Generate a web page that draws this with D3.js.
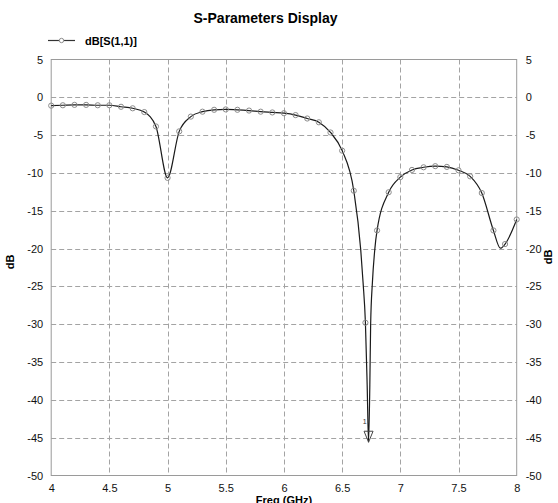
<!DOCTYPE html>
<html>
<head>
<meta charset="utf-8">
<script src="https://cdn.jsdelivr.net/npm/d3@7"></script>
<style>
  html, body { margin: 0; padding: 0; background: #fff; }
  svg { display: block; font-family: "Liberation Sans", Arial, sans-serif; }
</style>
</head>
<body>
<svg id="chart" width="558" height="503"></svg>
<script>
// Sampled S11 response: markers every 0.1 GHz
const markerFreq = [4.0, 4.1, 4.2, 4.3, 4.4, 4.5, 4.6, 4.7, 4.8, 4.9,
                    5.0, 5.1, 5.2, 5.3, 5.4, 5.5, 5.6, 5.7, 5.8, 5.9,
                    6.0, 6.1, 6.2, 6.3, 6.4, 6.5, 6.6, 6.7, 6.8, 6.9,
                    7.0, 7.1, 7.2, 7.3, 7.4, 7.5, 7.6, 7.7, 7.8, 7.9, 8.0];
const markerDb = [-1.10, -1.05, -1.00, -1.00, -1.05, -1.05, -1.25, -1.45, -1.95, -3.85,
                  -10.65, -4.50, -2.55, -1.90, -1.65, -1.60, -1.65, -1.75, -1.90, -2.00,
                  -2.10, -2.35, -2.80, -3.30, -4.65, -7.05, -12.35, -29.8, -17.6, -12.55,
                  -10.55, -9.60, -9.25, -9.10, -9.20, -9.65, -10.45, -12.65, -17.6, -19.4, -16.15];

// Additional trace samples around the sharp resonances (no marker drawn)
const extraFreq = [6.66, 6.68, 6.715, 6.727, 6.738, 6.745, 6.76, 6.78, 7.86];
const extraDb   = [-20.2, -24.5, -38.0, -45.6, -38.0, -30.0, -24.5, -20.2, -19.95];

// Marker 1 at the return-loss minimum
const markerLabel = ["1"];
const markerAtFreq = [6.727];
const markerAtDb = [-45.6];

const xTicks = [4, 4.5, 5, 5.5, 6, 6.5, 7, 7.5, 8];
const yTicks = [5, 0, -5, -10, -15, -20, -25, -30, -35, -40, -45, -50];

const titleText = "S-Parameters Display";
const legendText = "dB[S(1,1)]";
const xTitle = "Freq (GHz)";
const yTitle = "dB";

const svg = d3.select("#chart");
const plotL = 51.2, plotR = 516.7, plotT = 59.5, plotB = 475.5;

const x = d3.scaleLinear().domain([4, 8]).range([plotL, plotR]);
const y = d3.scaleLinear().domain([-50, 5]).range([plotB, plotT]);

// Grid
const grid = svg.append("g").attr("stroke", "#a3a3a3").attr("stroke-width", 1)
  .attr("stroke-dasharray", "5,3");
grid.selectAll("line.v").data(xTicks.filter(d => d > 4 && d < 8)).join("line")
  .attr("x1", d => Math.round(x(d)) + 0.5).attr("x2", d => Math.round(x(d)) + 0.5)
  .attr("y1", plotT).attr("y2", plotB);
grid.selectAll("line.h").data(yTicks.filter(d => d < 5 && d > -50)).join("line")
  .attr("y1", d => Math.round(y(d)) + 0.5).attr("y2", d => Math.round(y(d)) + 0.5)
  .attr("x1", plotL).attr("x2", plotR);

// Frame
svg.append("rect")
  .attr("x", plotL).attr("y", plotT).attr("width", plotR - plotL).attr("height", plotB - plotT)
  .attr("fill", "none").attr("stroke", "#9a9a9a").attr("stroke-width", 1);

// Axes (labels only)
const fmt = d => String(d);
const styleAxis = g => {
  g.select(".domain").remove();
  g.selectAll(".tick line").remove();
  g.selectAll(".tick text").attr("font-size", 11).attr("fill", "#111")
    .attr("font-family", "Liberation Sans, Arial, sans-serif");
};
svg.append("g").attr("transform", `translate(${plotL},0)`)
  .call(d3.axisLeft(y).tickValues(yTicks).tickFormat(fmt).tickSize(0).tickPadding(8))
  .call(styleAxis);
svg.append("g").attr("transform", `translate(${plotR},0)`)
  .call(d3.axisRight(y).tickValues(yTicks).tickFormat(fmt).tickSize(0).tickPadding(9))
  .call(styleAxis);
svg.append("g").attr("transform", `translate(0,${plotB})`)
  .call(d3.axisBottom(x).tickValues(xTicks).tickFormat(fmt).tickSize(0).tickPadding(9))
  .call(styleAxis);

// Trace
const pts = markerFreq.map((f, i) => [f, markerDb[i]])
  .concat(extraFreq.map((f, i) => [f, extraDb[i]]))
  .sort((a, b) => a[0] - b[0]);
const line = d3.line().x(d => x(d[0])).y(d => y(d[1])).curve(d3.curveMonotoneX);
svg.append("path").datum(pts)
  .attr("d", line).attr("fill", "none").attr("stroke", "#1a1a1a").attr("stroke-width", 1.2);

svg.append("g").selectAll("circle")
  .data(markerFreq.map((f, i) => [f, markerDb[i]])).join("circle")
  .attr("cx", d => x(d[0])).attr("cy", d => y(d[1])).attr("r", 2.6)
  .attr("fill", "none").attr("stroke", "#8c8c8c").attr("stroke-width", 1);

// Minimum marker: open triangle pointing at the trace
markerAtFreq.forEach((f, i) => {
  const mx = x(f), my = y(markerAtDb[i]);
  svg.append("path")
    .attr("d", `M${mx},${my} L${mx - 4.5},${my - 11} L${mx + 4.5},${my - 11} Z`)
    .attr("fill", "none").attr("stroke", "#444").attr("stroke-width", 1);
  svg.append("text").attr("x", mx - 2).attr("y", my - 18)
    .attr("font-size", 7).attr("text-anchor", "end").attr("fill", "#333")
    .text(markerLabel[i]);
});

// Title
svg.append("text").attr("x", 265.5).attr("y", 23).attr("text-anchor", "middle")
  .attr("font-size", 14).attr("font-weight", "bold").attr("fill", "#000").text(titleText);

// Legend
const lg = svg.append("g");
lg.append("line").attr("x1", 48).attr("x2", 75).attr("y1", 40.5).attr("y2", 40.5)
  .attr("stroke", "#333").attr("stroke-width", 1.2);
lg.append("circle").attr("cx", 61.5).attr("cy", 40.5).attr("r", 2.2)
  .attr("fill", "#fff").attr("stroke", "#8c8c8c").attr("stroke-width", 1);
lg.append("text").attr("x", 85).attr("y", 44.5).attr("font-size", 11)
  .attr("font-weight", "bold").attr("fill", "#000").text(legendText);

// Axis titles
svg.append("text").attr("transform", "translate(14,262) rotate(-90)")
  .attr("text-anchor", "middle").attr("font-size", 11).attr("font-weight", "bold").text(yTitle);
svg.append("text").attr("transform", "translate(552,257) rotate(-90)")
  .attr("text-anchor", "middle").attr("font-size", 11).attr("font-weight", "bold").text(yTitle);
svg.append("text").attr("x", (plotL + plotR) / 2).attr("y", 504)
  .attr("text-anchor", "middle").attr("font-size", 11).attr("font-weight", "bold").text(xTitle);
</script>
</body>
</html>
